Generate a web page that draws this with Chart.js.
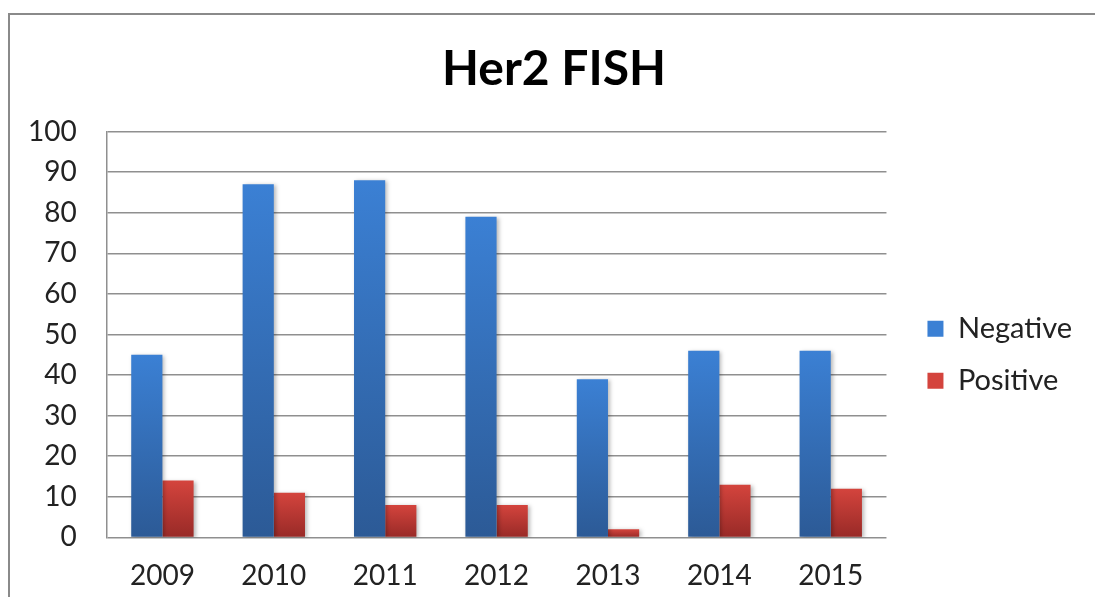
<!DOCTYPE html>
<html>
<head>
<meta charset="utf-8">
<script src="https://cdn.jsdelivr.net/npm/chart.js@4/dist/chart.umd.min.js"></script>
<style>
  html, body { margin: 0; padding: 0; background: #fff; overflow: hidden; }
  #frame { position: absolute; left: 8px; top: 13px; width: 1200px; height: 700px; border: 2px solid #8a8a8a; }
  #chart { position: absolute; left: 0; top: 0; }
</style>
</head>
<body>
<div id="frame"></div>
<canvas id="chart" width="1095" height="597"></canvas>
<script>
const years = ["2009", "2010", "2011", "2012", "2013", "2014", "2015"];
const negative = [45, 87, 88, 79, 39, 46, 46];
const positive = [14, 11, 8, 8, 2, 13, 12];
const yTicks = { min: 0, max: 100, step: 10 };

const canvas = document.getElementById("chart");
const ctx = canvas.getContext("2d");

// vertical gradient per bar, lighter on top
function barFill(top, bottom, solid) {
  return (c) => {
    const chart = c.chart;
    const y = chart.scales && chart.scales.y;
    if (c.type !== "data" || !y || !chart.chartArea) return solid;
    const y0 = y.getPixelForValue(0);
    const y1 = y.getPixelForValue(c.parsed.y);
    if (!isFinite(y0) || !isFinite(y1) || y0 === y1) return solid;
    const g = chart.ctx.createLinearGradient(0, y1, 0, y0);
    g.addColorStop(0, top);
    g.addColorStop(1, bottom);
    return g;
  };
}

const shadow = {
  id: "barShadow",
  beforeDatasetsDraw(chart) {
    const c = chart.ctx;
    c.save();
    c.shadowColor = "rgba(0,0,0,0.28)";
    c.shadowBlur = 4;
    c.shadowOffsetX = 2;
    c.shadowOffsetY = 1;
  },
  afterDatasetsDraw(chart) {
    chart.ctx.restore();
  }
};

// nudge the title a bit to the right, like the original
const titleShift = {
  id: "titleShift",
  afterLayout(chart) {
    if (chart.titleBlock) chart.titleBlock.left += 28;
  }
};

const FONT = "Lato, 'Open Sans', sans-serif";

new Chart(ctx, {
  type: "bar",
  data: {
    labels: years,
    datasets: [
      {
        label: "Negative",
        data: negative,
        backgroundColor: barFill("#3b80d4", "#2c5a96", "#3a72bd"),
        borderWidth: 0
      },
      {
        label: "Positive",
        data: positive,
        backgroundColor: barFill("#d4443d", "#982a27", "#c23a33"),
        borderWidth: 0
      }
    ]
  },
  options: {
    responsive: false,
    animation: false,
    layout: { padding: { left: -2, right: 13, top: 0, bottom: -18 } },
    datasets: {
      bar: { barPercentage: 1, categoryPercentage: 0.56 }
    },
    plugins: {
      title: {
        display: true,
        text: "Her2 FISH",
        color: "#000",
        font: { family: FONT, size: 48, weight: "bold" },
        padding: { top: 41, bottom: 33 }
      },
      legend: {
        position: "right",
        title: {
          display: true,
          text: "",
          font: { size: 12 },
          padding: { top: 80, bottom: 0 }
        },
        labels: {
          color: "#222",
          font: { family: FONT, size: 29 },
          boxWidth: 16,
          boxHeight: 16,
          padding: 23
        }
      },
      tooltip: { enabled: false }
    },
    scales: {
      x: {
        grid: { display: false, drawTicks: false },
        border: { display: false },
        ticks: { color: "#222", font: { family: FONT, size: 28 }, padding: 22 }
      },
      y: {
        min: yTicks.min,
        max: yTicks.max,
        grid: { color: "#8f8f8f", lineWidth: 1.5, drawTicks: false },
        border: { display: true, color: "#8f8f8f", width: 1.5 },
        ticks: {
          stepSize: yTicks.step,
          color: "#222",
          font: { family: FONT, size: 28 },
          padding: 30
        }
      },
      // empty spacer between plot and legend
      gap: {
        type: "linear",
        position: "right",
        grid: { display: false },
        border: { display: false },
        ticks: { display: false },
        afterFit: (s) => { s.width = 18; }
      }
    }
  },
  plugins: [shadow, titleShift]
});
</script>
</body>
</html>
